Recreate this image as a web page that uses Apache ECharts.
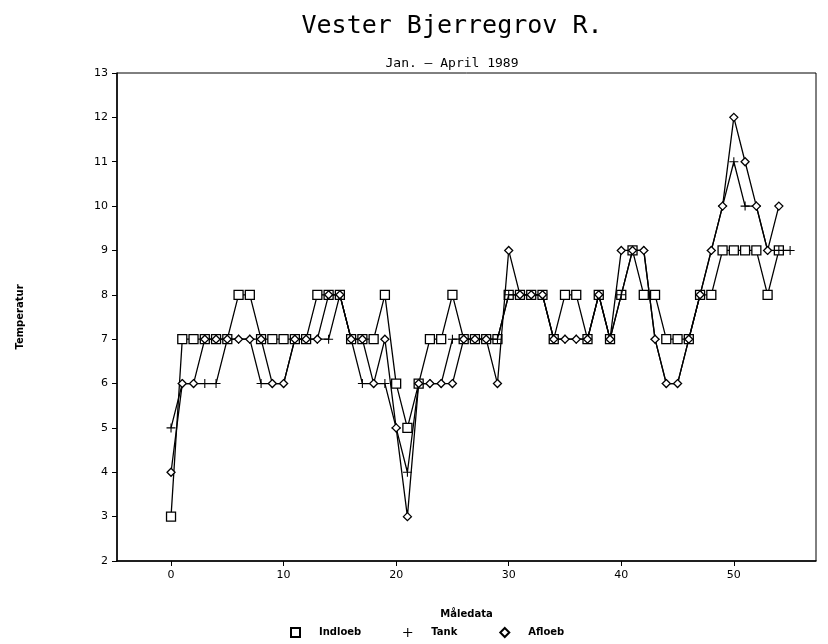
<!DOCTYPE html>
<html>
<head>
<meta charset="utf-8">
<script src="https://cdn.jsdelivr.net/npm/echarts@6/dist/echarts.min.js"></script>
<style>
  html, body { margin: 0; padding: 0; background: #fff; }
  #chart { width: 828px; height: 644px; }
</style>
</head>
<body>
<div id="chart"></div>
<script>
// Målinger, jan. - april 1989 (index = måledato)
const indloeb = [3, 7, 7, 7, 7, 7, 8, 8, 7, 7, 7, 7, 7, 8, 8, 8, 7, 7, 7, 8, 6, 5, 6, 7, 7, 8, 7, 7, 7, 7,
  8, 8, 8, 8, 7, 8, 8, 7, 8, 7, 8, 9, 8, 8, 7, 7, 7, 8, 8, 9, 9, 9, 9, 8, 9];
const tank = [5, 6, 6, 6, 6, 7, 7, 7, 6, 6, 6, 7, 7, 7, 7, 8, 7, 6, 6, 6, 5, 4, 6, 6, 6, 7, 7, 7, 7, 7,
  8, 8, 8, 8, 7, 7, 7, 7, 8, 7, 8, 9, 9, 7, 6, 6, 7, 8, 9, 10, 11, 10, 10, 9, 9, 9];
const afloeb = [4, 6, 6, 7, 7, 7, 7, 7, 7, 6, 6, 7, 7, 7, 8, 8, 7, 7, 6, 7, 5, 3, 6, 6, 6, 6, 7, 7, 7, 6,
  9, 8, 8, 8, 7, 7, 7, 7, 8, 7, 9, 9, 9, 7, 6, 6, 7, 8, 9, 10, 12, 11, 10, 9, 10];
const xTicks = [0, 10, 20, 30, 40, 50];

const plusIcon = 'path://M0,4.4h10v1.2h-10z M4.4,0h1.2v10h-1.2z';

let chart = echarts.init(document.getElementById('chart'));

const toPoints = arr => arr.map((v, i) => [i, v]);

const option = {
    backgroundColor: '#fff',
    textStyle: { fontFamily: 'DejaVu Sans', color: '#000' },
    title: [
        {
            text: 'Vester Bjerregrov R.',
            left: 447,
            top: 9,
            textAlign: 'center',
            textStyle: { fontFamily: 'DejaVu Sans Mono', fontWeight: 'normal', fontSize: 25, color: '#000' }
        },
        {
            text: 'Jan. \u2013 April 1989',
            left: 447,
            top: 52,
            textAlign: 'center',
            textStyle: { fontFamily: 'DejaVu Sans Mono', fontWeight: 'normal', fontSize: 13, color: '#000' }
        }
    ],
    legend: {
        bottom: 1,
        left: 285,
        itemWidth: 9,
        itemHeight: 9,
        itemGap: 42,
        textStyle: { fontSize: 10, fontWeight: 'bold', color: '#000', padding: [0, 0, 0, 14] },
        data: [
            { name: 'Indloeb', icon: 'rect' },
            { name: 'Tank', icon: plusIcon },
            { name: 'Afloeb', icon: 'diamond' }
        ]
    },
    grid: {
        left: 117,
        right: 12,
        top: 73,
        bottom: 83,
        show: true,
        borderColor: '#000',
        borderWidth: 1
    },
    xAxis: {
        type: 'value',
        min: -4.8,
        max: 57.3,
        name: 'Måledata',
        nameLocation: 'middle',
        nameGap: 48,
        nameTextStyle: { fontSize: 10, fontWeight: 'bold', color: '#000' },
        axisLine: { onZero: false, lineStyle: { color: '#000', width: 1.5 } },
        axisTick: { customValues: xTicks, length: 5, lineStyle: { color: '#000' } },
        axisLabel: { customValues: xTicks, fontSize: 11, color: '#000', margin: 9 },
        splitLine: { show: false }
    },
    yAxis: {
        type: 'value',
        min: 2,
        max: 13,
        interval: 1,
        name: 'Temperatur',
        nameLocation: 'middle',
        nameGap: 92,
        nameRotate: 90,
        nameTextStyle: { fontSize: 10, fontWeight: 'bold', color: '#000' },
        axisLine: { show: true, onZero: false, lineStyle: { color: '#000', width: 1.5 } },
        axisTick: { show: true, length: 5, lineStyle: { color: '#000' } },
        axisLabel: { fontSize: 11, color: '#000', margin: 9 },
        splitLine: { show: false }
    },
    series: [
        {
            name: 'Indloeb',
            type: 'line',
            data: toPoints(indloeb),
            symbol: 'rect',
            symbolSize: 9,
            lineStyle: { color: '#000', width: 1.3 },
            itemStyle: { color: '#fff', borderColor: '#000', borderWidth: 1.3 },
            emphasis: { disabled: true },
            z: 2
        },
        {
            name: 'Tank',
            type: 'line',
            data: toPoints(tank),
            symbol: plusIcon,
            symbolSize: 9,
            lineStyle: { color: '#000', width: 1.3 },
            itemStyle: { color: '#000', borderWidth: 0 },
            emphasis: { disabled: true },
            z: 3
        },
        {
            name: 'Afloeb',
            type: 'line',
            data: toPoints(afloeb),
            symbol: 'diamond',
            symbolSize: 8,
            lineStyle: { color: '#000', width: 1.3 },
            itemStyle: { color: '#fff', borderColor: '#000', borderWidth: 1.3 },
            emphasis: { disabled: true },
            z: 4
        }
    ]
};

option && chart.setOption(option);
window.addEventListener('resize', chart.resize);
</script>
</body>
</html>
